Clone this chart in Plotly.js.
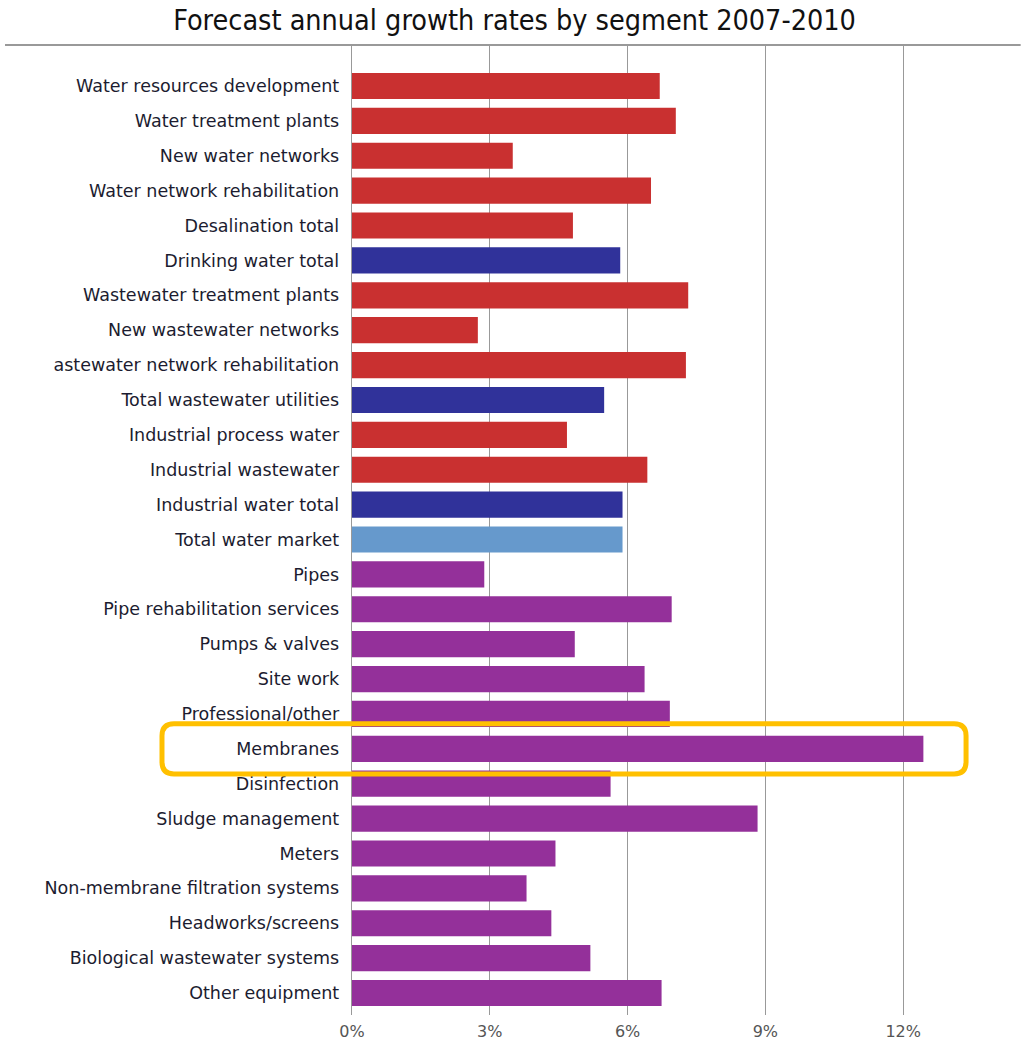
<!DOCTYPE html>
<html><head><meta charset="utf-8">
<script src="https://cdn.plot.ly/plotly-3.0.1.min.js"></script>
<style>html,body{margin:0;padding:0;background:#fff}#chart{width:1023px;height:1042px}</style>
</head><body><div id="chart"></div>
<script>
const categories = [
  'Water resources development', 'Water treatment plants', 'New water networks',
  'Water network rehabilitation', 'Desalination total', 'Drinking water total',
  'Wastewater treatment plants', 'New wastewater networks', 'astewater network rehabilitation',
  'Total wastewater utilities', 'Industrial process water', 'Industrial wastewater',
  'Industrial water total', 'Total water market', 'Pipes', 'Pipe rehabilitation services',
  'Pumps & valves', 'Site work', 'Professional/other', 'Membranes', 'Disinfection',
  'Sludge management', 'Meters', 'Non-membrane filtration systems', 'Headworks/screens',
  'Biological wastewater systems', 'Other equipment'
];
const values = [
  6.70, 7.05, 3.50, 6.51, 4.81, 5.84, 7.32, 2.74, 7.27,
  5.49, 4.68, 6.43, 5.89, 5.89, 2.88, 6.96, 4.85, 6.37, 6.92,
  12.44, 5.63, 8.83, 4.43, 3.80, 4.34, 5.19, 6.74
];
const groups = [
  'segment', 'segment', 'segment', 'segment', 'segment', 'subtotal',
  'segment', 'segment', 'segment', 'subtotal', 'segment', 'segment',
  'subtotal', 'total', 'product', 'product', 'product', 'product', 'product',
  'product', 'product', 'product', 'product', 'product', 'product', 'product', 'product'
];
const tickValues = [0, 3, 6, 9, 12];
const tickLabels = ['0%', '3%', '6%', '9%', '12%'];
const titleText = 'Forecast annual growth rates by segment 2007-2010';
const highlightCategory = 'Membranes';

const groupColors = {segment: '#C93030', subtotal: '#30329A', total: '#6699CC', product: '#94309A'};

const xRange = [0, 14.5];
const yRange = [26.63, -1.175];

// highlight box around the chosen category (paper coords so it is not clipped)
const hi = categories.indexOf(highlightCategory);
const toPy = v => (yRange[0] - v) / (yRange[0] - yRange[1]);
const bx0 = -0.2853, bx1 = 0.922;
const by1 = toPy(hi - 0.72), by0 = toPy(hi + 0.72);
const rx = 12 / 666, ry = 12 / 970;
const boxPath = `M ${bx0 + rx},${by0} L ${bx1 - rx},${by0} Q ${bx1},${by0} ${bx1},${by0 + ry} ` +
  `L ${bx1},${by1 - ry} Q ${bx1},${by1} ${bx1 - rx},${by1} L ${bx0 + rx},${by1} ` +
  `Q ${bx0},${by1} ${bx0},${by1 - ry} L ${bx0},${by0 + ry} Q ${bx0},${by0} ${bx0 + rx},${by0} Z`;

const trace = {
  type: 'bar', orientation: 'h',
  y: categories, x: values,
  marker: {color: groups.map(g => groupColors[g]), line: {width: 0}},
  width: 0.75, hoverinfo: 'x+y'
};

const layout = {
  width: 1023, height: 1042,
  margin: {l: 352, r: 5, t: 45, b: 27, pad: 0},
  paper_bgcolor: '#fff', plot_bgcolor: '#fff',
  showlegend: false,
  title: {text: titleText, xref: 'container', x: 0.503, xanchor: 'center',
          yref: 'container', y: 0.981, yanchor: 'middle',
          font: {family: 'Liberation Sans Narrow, Arial Narrow, DejaVu Sans Condensed, sans-serif', size: 28.5, color: '#111', weight: 500}},
  xaxis: {
    range: xRange, autorange: false,
    tickvals: tickValues, ticktext: tickLabels,
    showgrid: true, gridcolor: '#999', gridwidth: 1.3,
    zeroline: false, showline: false,
    ticks: '', ticklabelstandoff: 5,
    tickfont: {family: 'DejaVu Sans, sans-serif', size: 16, color: '#555'},
    fixedrange: true
  },
  yaxis: {
    type: 'category', categoryorder: 'array', categoryarray: categories,
    range: yRange, autorange: false,
    showgrid: false, zeroline: false,
    showline: true, linecolor: '#999', linewidth: 1.3,
    ticks: 'outside', ticklen: 8, tickcolor: 'rgba(0,0,0,0)',
    tickfont: {family: 'DejaVu Sans, sans-serif', size: 17.5, color: '#1c1c30'},
    fixedrange: true
  },
  shapes: [
    {type: 'line', xref: 'paper', yref: 'paper', x0: -0.521, x1: 1.004, y0: 1, y1: 1,
     line: {color: '#999', width: 2}},
    {type: 'path', xref: 'paper', yref: 'paper', path: boxPath,
     line: {color: '#FFC000', width: 5}, fillcolor: 'rgba(0,0,0,0)', layer: 'above'}
  ]
};

Plotly.newPlot('chart', [trace], layout, {displayModeBar: false, staticPlot: true});
</script>
</body></html>
